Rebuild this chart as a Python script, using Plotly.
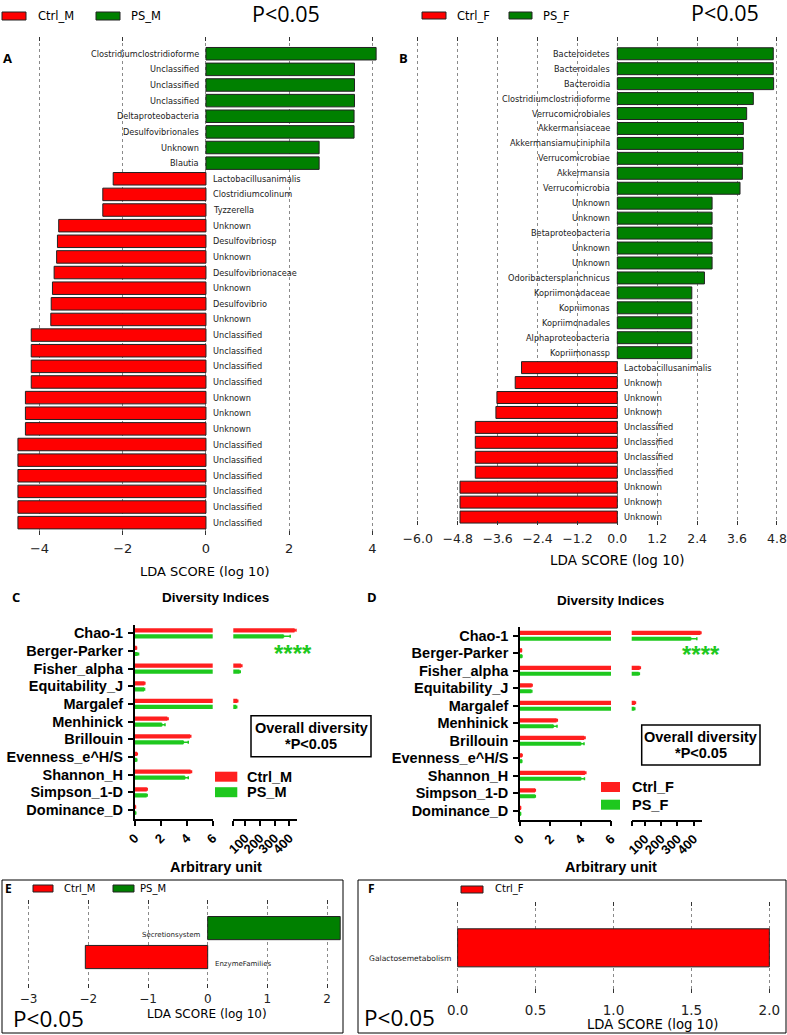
import plotly.graph_objects as go

W, H = 787, 1035


def px(x):
    return x / W


def py(y):
    return 1 - y / H


RED = '#ff0000'
GREEN = '#008000'
GP_RED = '#ff1f1f'
GP_GREEN = '#1ec81e'

# ---- Panel A: LEfSe, males ----
a_taxa = ['Clostridiumclostridioforme', 'Unclassified', 'Unclassified', 'Unclassified',
          'Deltaproteobacteria', 'Desulfovibrionales', 'Unknown', 'Blautia',
          'Lactobacillusanimalis', 'Clostridiumcolinum', 'Tyzzerella', 'Unknown',
          'Desulfovibriosp', 'Unknown', 'Desulfovibrionaceae', 'Unknown', 'Desulfovibrio',
          'Unknown', 'Unclassified', 'Unclassified', 'Unclassified', 'Unclassified',
          'Unknown', 'Unknown', 'Unknown', 'Unclassified', 'Unclassified', 'Unclassified',
          'Unclassified', 'Unclassified', 'Unclassified']
a_lda = [4.09, 3.57, 3.57, 3.57, 3.56, 3.56, 2.72, 2.72,
         -2.23, -2.48, -2.48, -3.54, -3.57, -3.59, -3.65, -3.69, -3.72, -3.73,
         -4.2, -4.2, -4.2, -4.2, -4.34, -4.34, -4.34,
         -4.52, -4.52, -4.52, -4.52, -4.52, -4.52]

# ---- Panel B: LEfSe, females ----
b_taxa = ['Bacteroidetes', 'Bacteroidales', 'Bacteroidia', 'Clostridiumclostridioforme',
          'Verrucomicrobiales', 'Akkermansiaceae', 'Akkermansiamuciniphila',
          'Verrucomicrobiae', 'Akkermansia', 'Verrucomicrobia', 'Unknown', 'Unknown',
          'Betaproteobacteria', 'Unknown', 'Unknown', 'Odoribactersplanchnicus',
          'Kopriimonadaceae', 'Kopriimonas', 'Kopriimonadales', 'Alphaproteobacteria',
          'Kopriimonassp', 'Lactobacillusanimalis', 'Unknown', 'Unknown', 'Unknown',
          'Unclassified', 'Unclassified', 'Unclassified', 'Unclassified',
          'Unknown', 'Unknown', 'Unknown']
b_lda = [4.69, 4.69, 4.70, 4.09, 3.89, 3.79, 3.79, 3.77, 3.76, 3.69,
         2.85, 2.85, 2.85, 2.85, 2.85, 2.62, 2.24, 2.24, 2.24, 2.24, 2.24,
         -2.88, -3.07, -3.62, -3.65, -4.27, -4.27, -4.27, -4.27, -4.73, -4.73, -4.73]

# ---- Panels C/D: diversity indices ----
div_index = ['Chao-1', 'Berger-Parker', 'Fisher_alpha', 'Equitability_J', 'Margalef',
             'Menhinick', 'Brillouin', 'Evenness_e^H/S', 'Shannon_H', 'Simpson_1-D',
             'Dominance_D']
c_ctrl = [435, 0.12, 72, 0.75, 47, 2.51, 4.25, 0.18, 4.3, 0.93, 0.05]
c_ctrl_err = [12, 0.02, 6, 0.03, 3, 0.06, 0.06, 0.02, 0.07, 0.03, 0.01]
c_ps = [360, 0.22, 62, 0.72, 40, 2.08, 3.74, 0.14, 3.85, 0.92, 0.06]
c_ps_err = [46, 0.08, 5, 0.04, 3, 0.25, 0.38, 0.02, 0.27, 0.04, 0.02]
d_ctrl = [442, 0.08, 69, 0.77, 40, 2.41, 4.23, 0.12, 4.28, 0.99, 0.03]
d_ctrl_err = [10, 0.02, 4, 0.03, 3, 0.05, 0.06, 0.02, 0.06, 0.02, 0.01]
d_ps = [382, 0.1, 63, 0.75, 36, 2.19, 4.0, 0.1, 4.0, 0.98, 0.03]
d_ps_err = [38, 0.03, 4, 0.03, 3, 0.25, 0.22, 0.02, 0.25, 0.03, 0.01]

# ---- Panels E/F: functional LEfSe ----
e_path = ['Secretionsystem', 'EnzymeFamilies']
e_lda = [2.22, -2.05]
f_path = ['Galactosemetabolism']
f_lda = [2.0]

fig = go.Figure()
annos = []
shapes = []


def lefse(taxa, lda, xa, ya, neg_name, pos_name, fsize, yshift=0):
    for name, color, neg in [(neg_name, RED, True), (pos_name, GREEN, False)]:
        idx = [i for i, v in enumerate(lda) if (v < 0) == neg]
        if not idx or name is None:
            continue
        fig.add_trace(go.Bar(
            x=[lda[i] for i in idx], y=idx, orientation='h', name=name,
            width=0.8, xaxis=xa, yaxis=ya,
            marker=dict(color=color, line=dict(color='#222', width=1)),
            hoverinfo='x+name'))
    for i, (t, v) in enumerate(zip(taxa, lda)):
        annos.append(dict(x=0, y=i, xref=xa, yref=ya, text=t, showarrow=False,
                          xanchor='left' if v < 0 else 'right',
                          xshift=5 if v < 0 else -5, yshift=yshift,
                          font=dict(family='DejaVu Sans', size=fsize, color='#222')))


lefse(a_taxa, a_lda, 'x', 'y', 'Ctrl_M', 'PS_M', 8.2)
lefse(b_taxa, b_lda, 'x2', 'y2', 'Ctrl_F', 'PS_F', 8.2)
lefse(e_path, e_lda, 'x7', 'y5', 'Ctrl_M', 'PS_M', 7, yshift=-7)
lefse(f_path, f_lda, 'x8', 'y6', None, 'Ctrl_F', 7.6, yshift=-11)
# panel F bar is the Ctrl_F class -> red
fig.data[-1].marker.color = RED


def diversity(ctrl, ctrl_err, ps, ps_err, xl, xr, ya, names):
    for vals, err, color, off, nm in [(ctrl, ctrl_err, GP_RED, -0.29, names[0]),
                                      (ps, ps_err, GP_GREEN, 0.05, names[1])]:
        for xa in (xl, xr):
            fig.add_trace(go.Bar(
                x=vals, y=div_index, orientation='h', name=nm,
                offset=off, width=0.24, xaxis=xa, yaxis=ya,
                marker=dict(color=color, line=dict(width=0)),
                error_x=dict(type='data', array=err, arrayminus=[0] * len(err),
                             symmetric=False, color=color, thickness=1.5, width=1.5)))


diversity(c_ctrl, c_ctrl_err, c_ps, c_ps_err, 'x3', 'x4', 'y3', ['Ctrl_M', 'PS_M'])
diversity(d_ctrl, d_ctrl_err, d_ps, d_ps_err, 'x5', 'x6', 'y4', ['Ctrl_F', 'PS_F'])


# ---- axes ----
def lefse_x(l, r, rng, tickvals, fsize, standoff, anchor, fmt=None):
    d = dict(domain=[px(l), px(r)], range=rng, tickvals=tickvals, anchor=anchor,
             showgrid=True, gridcolor='#8a8a8a', griddash='dot', gridwidth=1,
             zeroline=False, showline=True, linecolor='rgba(0,0,0,0)', mirror='ticks',
             ticks='inside', ticklen=4, tickcolor='#333', ticklabelstandoff=standoff,
             automargin=False,
             tickfont=dict(family='DejaVu Sans', size=fsize, color='#222'))
    if fmt:
        d['tickformat'] = fmt
    return d


def hidden_y(top, bottom, rng):
    return dict(domain=[py(bottom), py(top)], range=rng, visible=False,
                showgrid=False, zeroline=False, automargin=False)


gp_font = dict(family='Liberation Sans', size=13, weight='bold', color='black')


def gp_x(l, r, rng, tickvals, ticktext, anchor):
    return dict(domain=[px(l), px(r)], range=rng, tickvals=tickvals, ticktext=ticktext,
                anchor=anchor, showgrid=False, zeroline=False, showline=True,
                linecolor='black', linewidth=1.5, ticks='outside', ticklen=5,
                tickwidth=1.5, tickcolor='black', tickangle=-45, tickfont=gp_font,
                automargin=False)


def gp_y(top, bottom, anchor):
    return dict(domain=[py(bottom), py(top)], type='category', categoryorder='array',
                categoryarray=div_index, range=[10.5, -0.5], anchor=anchor,
                showgrid=False, zeroline=False, showline=True, linecolor='black',
                linewidth=1.5, ticks='outside', ticklen=5, tickwidth=1.5,
                tickcolor='black', ticklabelstandoff=2, automargin=False,
                tickfont=dict(family='Liberation Sans', size=14.5, weight='bold',
                              color='black'))


b_ticks = [-6.0, -4.8, -3.6, -2.4, -1.2, 0.0, 1.2, 2.4, 3.6, 4.8]
fig.update_layout(
    xaxis=lefse_x(14.6, 380.7, [-4.6, 4.2], [-4, -2, 0, 2, 4], 13, 1, 'y'),
    yaxis=hidden_y(37, 535, [30.79, -1.07]),
    xaxis2=lefse_x(416.1, 778.6, [-6.05, 4.85], b_ticks, 12.5, 2, 'y2', '.1f'),
    yaxis2=hidden_y(37, 525, [31.53, -1.12]),
    xaxis3=gp_x(134.7, 212.7, [0, 6], [0, 2, 4, 6], ['0', '2', '4', '6'], 'y3'),
    xaxis4=gp_x(233.3, 296.7, [20, 450], [20, 100, 200, 300, 400],
                ['', '100', '200', '300', '400'], 'y3'),
    yaxis3=gp_y(624.5, 818.8, 'x3'),
    xaxis5=gp_x(520, 611, [0, 6], [0, 2, 4, 6], ['0', '2', '4', '6'], 'y4'),
    xaxis6=gp_x(631.7, 701.7, [20, 450], [20, 100, 200, 300, 400],
                ['', '100', '200', '300', '400'], 'y4'),
    yaxis4=gp_y(627, 819.5, 'x5'),
    xaxis7=lefse_x(16.7, 342, [-3.2, 2.25], [-3, -2, -1, 0, 1, 2], 12, 0, 'y5'),
    yaxis5=hidden_y(900, 988, [2.07, -0.97]),
    xaxis8=lefse_x(456.1, 770.9, [-0.01, 2.01], [0, 0.5, 1, 1.5, 2], 13.5, 5, 'y6', '.1f'),
    yaxis6=hidden_y(901.7, 993, [0.95, -0.97]),
)


# ---- text, legends, boxes ----
def text(x, y, s, size, family='DejaVu Sans', bold=False, color='black', anchor='center'):
    annos.append(dict(x=px(x), y=py(y), xref='paper', yref='paper', text=s,
                      showarrow=False, xanchor=anchor, yanchor='middle',
                      font=dict(family=family, size=size, color=color,
                                weight='bold' if bold else 'normal')))


def patch(x0, y0, x1, y1, color, edge='#222'):
    shapes.append(dict(type='rect', xref='paper', yref='paper', x0=px(x0), x1=px(x1),
                       y0=py(y1), y1=py(y0), fillcolor=color,
                       line=dict(color=edge, width=1 if edge else 0)))


# A / B headers
patch(2, 12, 26, 20, RED)
text(36, 16, 'Ctrl_M', 11.5, anchor='left')
patch(96, 12, 120, 20, GREEN)
text(129, 16, 'PS_M', 11.5, anchor='left')
text(286, 14, 'P&lt;0.05', 21.5, family='Open Sans')
text(7.5, 58, 'A', 13, family='Open Sans', bold=True)
text(205, 571, 'LDA SCORE (log 10)', 13)

patch(422, 12, 446, 19, RED)
text(455, 16, 'Ctrl_F', 11.5, anchor='left')
patch(509, 12, 532, 19, GREEN)
text(541, 16, 'PS_F', 11.5, anchor='left')
text(725, 13, 'P&lt;0.05', 21.5, family='Open Sans')
text(403, 58, 'B', 13, family='Open Sans', bold=True)
text(617, 560, 'LDA SCORE (log 10)', 13.5)

# C / D
for cx, lx, ly, title_y, lab_x, lab_y, star_x, star_y, box, names, leg in [
        (215.5, 15.5, 597, 597, 215.5, 867, 293, 650, (251, 715.7, 371, 756.7),
         ('Ctrl_M', 'PS_M'), (215, 237.3, 776.7, 792.2, 245)),
        (610, 372, 597, 600.7, 610.8, 867, 701, 651, (641.7, 725, 760, 765),
         ('Ctrl_F', 'PS_F'), (601, 620, 787, 804.7, 630))]:
    text(lx, ly, ['C', 'D'][names[0] == 'Ctrl_F'], 13, family='Open Sans', bold=True)
    text(cx, title_y, 'Diversity Indices', 13.5, family='Liberation Sans', bold=True)
    text(lab_x, lab_y, 'Arbitrary unit', 14.5, family='Liberation Sans', bold=True)
    text(star_x, star_y + 3, '****', 24, family='Liberation Sans', bold=True, color=GP_GREEN)
    x0, y0, x1, y1 = box
    shapes.append(dict(type='rect', xref='paper', yref='paper', x0=px(x0), x1=px(x1),
                       y0=py(y1), y1=py(y0), line=dict(color='black', width=1.5)))
    mid = (y0 + y1) / 2
    text((x0 + x1) / 2, mid - 8, 'Overall diversity', 14.5, family='Liberation Sans', bold=True)
    text((x0 + x1) / 2, mid + 8, '*P&lt;0.05', 14.5, family='Liberation Sans', bold=True)
    bx0, bx1, r_y, g_y, tx = leg
    patch(bx0, r_y - 5, bx1, r_y + 5, GP_RED, edge=None)
    patch(bx0, g_y - 5, bx1, g_y + 5, GP_GREEN, edge=None)
    text(tx, r_y, names[0], 14.5, family='Liberation Sans', bold=True, anchor='left')
    text(tx, g_y, names[1], 14.5, family='Liberation Sans', bold=True, anchor='left')

# E / F
shapes.append(dict(type='rect', xref='paper', yref='paper', x0=px(2), x1=px(343),
                   y0=py(1033), y1=py(880), line=dict(color='black', width=1)))
shapes.append(dict(type='rect', xref='paper', yref='paper', x0=px(358), x1=px(786),
                   y0=py(1033), y1=py(880), line=dict(color='black', width=1)))
text(8, 888, 'E', 12, family='Open Sans', bold=True)
patch(33, 885, 53, 892, RED)
text(62, 888.5, 'Ctrl_M', 10, anchor='left')
patch(113, 885, 134, 892, GREEN)
text(138, 888.5, 'PS_M', 10, anchor='left')
text(48, 1018, 'P&lt;0.05', 22.5, family='Open Sans')
text(206.7, 1013.5, 'LDA SCORE (log 10)', 12)

text(371.5, 888, 'F', 12, family='Open Sans', bold=True)
patch(461, 886, 483, 893, RED)
text(493, 889, 'Ctrl_F', 10, anchor='left')
text(399, 1017, 'P&lt;0.05', 22.5, family='Open Sans')
text(652.5, 1024, 'LDA SCORE (log 10)', 13.2)

fig.update_layout(
    width=W, height=H, margin=dict(l=0, r=0, t=0, b=0, autoexpand=False),
    plot_bgcolor='white', paper_bgcolor='white', showlegend=False,
    barmode='overlay', annotations=annos, shapes=shapes)

# page body has a default 8px margin; drop it so the figure fills the window
fig.write_html('out.html', config={'displayModeBar': False},
               post_script="document.body.style.margin='0';")
